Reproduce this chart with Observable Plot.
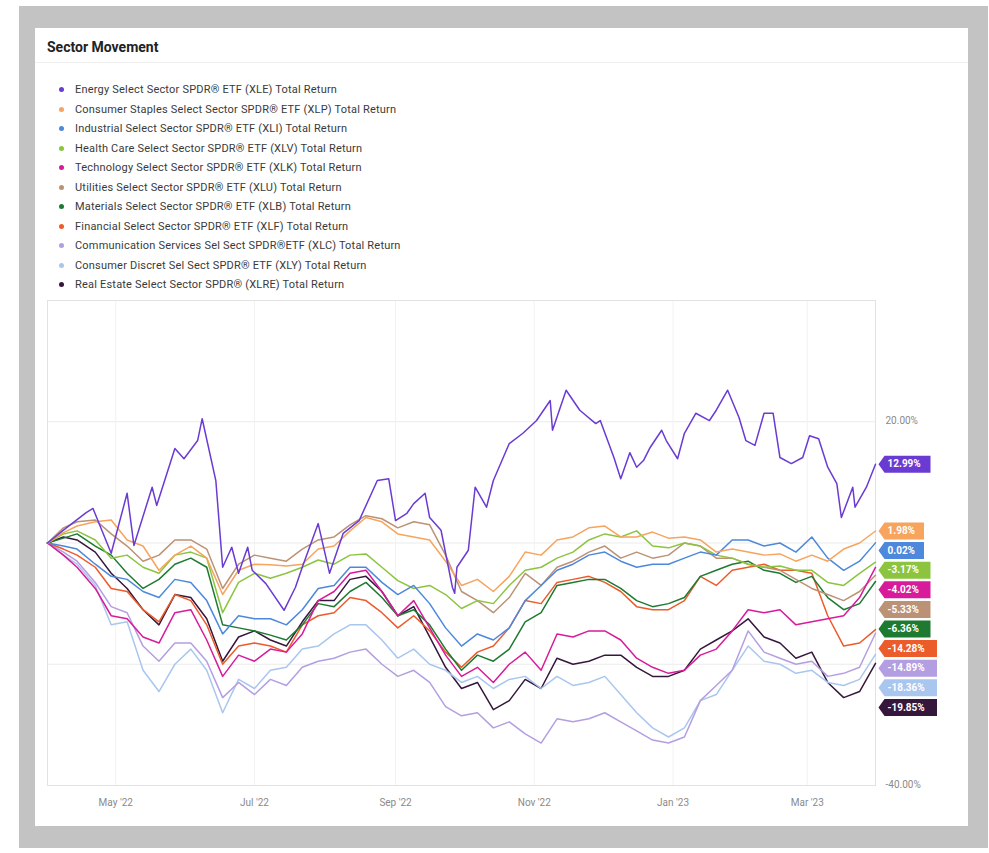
<!DOCTYPE html>
<html>
<head>
<meta charset="utf-8">
<script src="https://cdn.jsdelivr.net/npm/d3@7"></script>
<script src="https://cdn.jsdelivr.net/npm/@observablehq/plot@0.6"></script>
<style>
  html, body { margin:0; padding:0; background:#fff; }
  body { width:989px; height:853px; position:relative; overflow:hidden; font-family: Roboto, "Liberation Sans", sans-serif; }
  #frame { position:absolute; left:19px; top:6px; width:969px; height:842px; background:#c3c3c3; }
  #card { position:absolute; left:35px; top:28px; width:933px; height:798px; background:#fff; }
  #title { position:absolute; left:12px; top:11px; font-size:14px; font-weight:700; color:#222; }
  #sep { position:absolute; left:0; top:34px; width:100%; height:1px; background:#efefef; }
  #legend { position:absolute; left:24px; top:52px; }
  .item { height:19.5px; display:flex; align-items:center; font-size:11px; letter-spacing:0.2px; color:#3a3a3a; white-space:nowrap; }
  .dot { width:5px; height:5px; border-radius:50%; margin-right:11px; flex:none; }
  #chart { position:absolute; left:0; top:262px; }
</style>
</head>
<body>
<div id="frame"></div>
<div id="card">
  <div id="title">Sector Movement</div>
  <div id="sep"></div>
  <div id="legend"></div>
  <div id="chart"></div>
</div>
<script>
const tickers = ["XLE","XLP","XLI","XLV","XLK","XLU","XLB","XLF","XLC","XLY","XLRE"];
const names = [
  "Energy Select Sector SPDR® ETF (XLE) Total Return",
  "Consumer Staples Select Sector SPDR® ETF (XLP) Total Return",
  "Industrial Select Sector SPDR® ETF (XLI) Total Return",
  "Health Care Select Sector SPDR® ETF (XLV) Total Return",
  "Technology Select Sector SPDR® ETF (XLK) Total Return",
  "Utilities Select Sector SPDR® ETF (XLU) Total Return",
  "Materials Select Sector SPDR® ETF (XLB) Total Return",
  "Financial Select Sector SPDR® ETF (XLF) Total Return",
  "Communication Services Sel Sect SPDR®ETF (XLC) Total Return",
  "Consumer Discret Sel Sect SPDR® ETF (XLY) Total Return",
  "Real Estate Select Sector SPDR® (XLRE) Total Return"
];
const colors = ["#6a3bd3","#f6a45e","#4d88dc","#8cc43f","#d81b9a","#bb9276","#1d7a30","#ec5b2a","#b49ee2","#a9c6ef","#36173c"];

// weekly closes (shared by the ten non-energy sectors)
const dates = ["2022-04-01","2022-04-08","2022-04-14","2022-04-22","2022-04-29","2022-05-06","2022-05-13","2022-05-20","2022-05-27","2022-06-03","2022-06-10","2022-06-17","2022-06-24","2022-07-01","2022-07-08","2022-07-15","2022-07-22","2022-07-29","2022-08-05","2022-08-12","2022-08-19","2022-08-26","2022-09-02","2022-09-09","2022-09-16","2022-09-23","2022-09-30","2022-10-07","2022-10-14","2022-10-21","2022-10-28","2022-11-04","2022-11-11","2022-11-18","2022-11-25","2022-12-02","2022-12-09","2022-12-16","2022-12-23","2022-12-30","2023-01-06","2023-01-13","2023-01-20","2023-01-27","2023-02-03","2023-02-10","2023-02-17","2023-02-24","2023-03-03","2023-03-10","2023-03-17","2023-03-24","2023-03-31"];

// energy has its own, denser reading of turning points
const xleDates = ["2022-04-01","2022-04-09","2022-04-18","2022-04-21","2022-04-29","2022-05-06","2022-05-09","2022-05-17","2022-05-19","2022-05-27","2022-05-31","2022-06-06","2022-06-08","2022-06-14","2022-06-17","2022-06-21","2022-06-24","2022-06-28","2022-06-30","2022-07-06","2022-07-14","2022-07-19","2022-07-22","2022-07-29","2022-08-03","2022-08-09","2022-08-16","2022-08-24","2022-08-29","2022-09-01","2022-09-06","2022-09-09","2022-09-14","2022-09-16","2022-09-21","2022-09-26","2022-09-27","2022-09-28","2022-10-03","2022-10-06","2022-10-11","2022-10-14","2022-10-21","2022-10-27","2022-11-02","2022-11-08","2022-11-09","2022-11-15","2022-11-21","2022-11-28","2022-11-30","2022-12-06","2022-12-09","2022-12-13","2022-12-16","2022-12-19","2022-12-22","2022-12-27","2022-12-29","2023-01-03","2023-01-06","2023-01-11","2023-01-17","2023-01-20","2023-01-25","2023-01-30","2023-02-02","2023-02-06","2023-02-10","2023-02-14","2023-02-17","2023-02-22","2023-02-27","2023-03-02","2023-03-06","2023-03-10","2023-03-14","2023-03-16","2023-03-21","2023-03-22","2023-03-27","2023-03-31"];
const XLE = [0,2.4,5.0,5.7,-1.7,8.2,-0.4,9.2,6.2,15.6,13.9,16.9,20.5,10.3,-4.0,-0.7,-5.0,-0.7,-4.5,-6.7,-11.1,-7.3,-4.0,3.2,-5.0,1.6,3.7,10.3,10.6,3.7,4.9,6.5,8.2,4.2,2.1,-7.3,-8.3,-4.0,-1.2,9.2,5.9,10.3,16.4,18.1,20.2,23.5,18.6,25.2,21.9,19.7,20.2,14.1,10.6,14.9,12.5,13.6,15.8,18.6,16.9,13.9,18.1,21.4,20.2,21.9,25.2,20.7,16.9,16.1,21.4,21.4,14.1,13.1,14.1,17.7,17.2,12.5,9.8,4.2,9.2,5.9,9.2,12.99];

const XLP = [0,1.7,2.8,3.5,3.8,0.5,-0.5,-4.5,-2.0,-0.5,-2.5,-8.5,-4.5,-3.5,-3.6,-3.8,-3.5,-1.0,-0.5,2.0,4.2,3.5,1.5,1.0,0.5,-3.0,-7.0,-6.0,-8.0,-5.5,-1.5,-2.0,0.5,1.0,2.5,2.8,1.0,1.0,1.8,0.8,1.0,0.5,-1.5,-1.0,-1.5,-2.0,-1.8,-3.0,-2.0,-3.0,-1.0,0.0,1.98];
const XLI = [0,-0.5,-1.0,-3.5,-5.5,-6.0,-8.0,-9.0,-6.0,-6.5,-9.5,-15.0,-12.0,-12.5,-12.5,-13.5,-11.0,-7.5,-7.0,-4.0,-4.0,-6.5,-8.5,-7.0,-10.0,-14.0,-17.0,-15.0,-16.0,-14.0,-9.5,-7.0,-4.5,-3.5,-2.0,-1.5,-3.0,-4.0,-3.5,-3.5,-2.5,-1.5,-2.0,0.5,0.5,-0.5,0.0,-1.5,1.0,-2.5,-4.5,-3.0,0.02];
const XLV = [0,1.5,2.0,0.5,-2.5,-2.0,-4.0,-5.0,-2.0,-1.5,-2.5,-11.5,-6.5,-5.0,-5.8,-5.0,-4.0,-2.8,-3.5,-2.0,-1.8,-4.0,-6.2,-7.5,-7.0,-8.5,-10.8,-9.5,-10.0,-7.0,-4.5,-4.0,-2.5,-1.5,0.5,1.5,1.0,2.0,-0.5,-0.8,0.0,-0.5,-2.0,-2.5,-3.5,-4.0,-3.8,-4.5,-4.5,-6.5,-7.0,-5.0,-3.17];
const XLK = [0,-2.0,-4.0,-7.5,-12.0,-12.5,-15.5,-16.5,-11.5,-11.0,-16.0,-22.0,-18.5,-19.5,-17.5,-18.0,-15.0,-9.5,-8.0,-5.0,-4.5,-8.0,-12.0,-9.5,-14.0,-18.5,-22.0,-20.5,-23.0,-20.0,-18.0,-21.0,-15.0,-15.5,-14.5,-14.5,-16.0,-19.0,-20.5,-21.5,-21.0,-18.5,-17.5,-14.5,-11.0,-11.5,-11.0,-13.5,-13.0,-12.5,-12.0,-9.0,-4.02];
const XLU = [0,2.5,3.5,3.8,1.5,-0.5,-3.0,-2.0,0.5,0.5,-1.0,-7.5,-3.5,-2.0,-2.5,-3.0,-1.0,0.5,1.0,3.0,4.5,4.0,2.5,3.5,3.0,-2.0,-8.0,-9.5,-11.5,-9.0,-5.0,-7.0,-4.0,-3.0,-1.5,-0.5,-2.5,-1.5,-2.5,-2.0,0.0,-0.5,-2.5,-2.5,-3.5,-4.0,-4.5,-6.0,-7.5,-8.5,-9.5,-8.0,-5.33];
const XLB = [0,0.8,1.5,-0.5,-2.0,-5.0,-7.5,-6.0,-3.5,-2.5,-4.0,-13.5,-14.0,-14.5,-15.2,-16.0,-13.5,-10.0,-10.5,-8.0,-6.5,-9.0,-12.0,-11.0,-13.5,-17.5,-21.0,-18.5,-19.5,-17.5,-13.0,-11.5,-7.0,-6.5,-6.0,-6.0,-7.5,-9.5,-10.5,-10.0,-9.0,-5.5,-4.5,-3.5,-3.0,-4.5,-5.0,-6.5,-5.5,-9.0,-11.0,-10.0,-6.36];
const XLF = [0,-1.0,-2.0,-4.0,-7.5,-8.0,-11.0,-13.0,-8.5,-9.5,-13.5,-20.0,-17.0,-16.5,-17.0,-18.0,-13.5,-12.0,-11.5,-9.0,-9.5,-11.5,-14.0,-12.0,-14.5,-18.0,-20.5,-18.0,-17.0,-14.0,-9.5,-10.0,-6.5,-6.0,-5.5,-6.5,-8.0,-10.5,-11.0,-11.0,-9.5,-5.5,-7.0,-4.5,-4.0,-3.5,-4.5,-4.5,-5.0,-12.0,-17.0,-16.5,-14.28];
const XLC = [0,-1.5,-3.0,-6.5,-10.5,-11.5,-17.0,-19.5,-16.5,-16.5,-19.5,-25.5,-23.0,-25.0,-22.5,-23.5,-20.5,-19.5,-19.0,-18.0,-17.5,-20.0,-22.0,-21.0,-23.0,-27.0,-28.5,-28.0,-30.5,-29.5,-31.5,-33.0,-29.0,-29.5,-29.0,-28.0,-29.5,-31.0,-32.5,-33.0,-32.0,-26.0,-23.5,-21.0,-14.5,-18.0,-19.0,-20.0,-19.5,-22.0,-21.5,-20.5,-14.89];
const XLY = [0,-2.0,-3.5,-7.0,-13.5,-13.0,-21.0,-24.5,-20.0,-17.5,-21.0,-28.0,-22.5,-24.0,-21.0,-20.5,-17.5,-17.0,-15.0,-13.5,-13.5,-16.0,-19.0,-17.5,-20.0,-21.0,-23.0,-22.0,-24.0,-22.5,-22.0,-24.0,-22.0,-23.5,-23.0,-22.0,-25.0,-28.0,-30.5,-32.0,-30.5,-26.0,-25.0,-21.0,-17.0,-19.5,-20.0,-21.5,-21.0,-23.0,-23.5,-22.5,-18.36];
const XLRE = [0,1.0,0.5,-1.5,-5.0,-7.5,-11.0,-13.5,-8.5,-9.0,-12.5,-19.5,-15.5,-14.5,-16.0,-17.0,-13.0,-9.5,-9.5,-6.0,-5.5,-8.0,-12.0,-10.5,-15.5,-20.5,-24.0,-23.0,-27.5,-26.0,-22.5,-24.0,-19.0,-20.0,-19.5,-18.5,-18.5,-20.5,-22.0,-22.0,-21.0,-17.5,-16.0,-14.5,-12.5,-15.5,-16.5,-19.0,-18.0,-23.0,-25.5,-24.5,-19.85];

const xTicks = ["2022-05-01","2022-07-01","2022-09-01","2022-11-01","2023-01-01","2023-03-01"];
const yGrid = [40, 20, 0, -20, -40];
const yLabels = [20, -40];

const values = {XLE, XLP, XLI, XLV, XLK, XLU, XLB, XLF, XLC, XLY, XLRE};
const seriesDates = t => (t === "XLE" ? xleDates : dates);

// legend
const legend = document.getElementById("legend");
tickers.forEach((t, i) => {
  const d = document.createElement("div");
  d.className = "item";
  const dot = document.createElement("span");
  dot.className = "dot";
  dot.style.background = colors[i];
  const txt = document.createElement("span");
  txt.textContent = names[i];
  d.appendChild(dot); d.appendChild(txt);
  legend.appendChild(d);
});

const W = 933, H = 530, mL = 12, mR = 93, mT = 10, mB = 35;
const parse = s => new Date(s + "T00:00:00Z");
const rows = [];
for (const t of [...tickers].reverse()) {
  const ds = seriesDates(t);
  values[t].forEach((v, i) => rows.push({ticker: t, date: parse(ds[i]), value: v}));
}
const lastDate = parse(dates[dates.length - 1]);
const fmt = v => v.toFixed(2) + "%";

const yS = Plot.scale({y: {domain: [-40, 40], range: [H - mB, mT]}});
const ends = tickers.map(t => {
  const v = values[t][values[t].length - 1];
  return {ticker: t, value: v, label: fmt(v), py: yS.apply(v), date: lastDate};
});
ends.sort((a, b) => a.py - b.py);
let prev = -Infinity;
for (const e of ends) {
  e.ly = Math.max(e.py, prev + 19.6);
  prev = e.ly;
  e.lv = yS.invert(e.ly);
  e.w = e.label.length * 6.5 + 7;
}

const tag = {
  draw(ctx, size) {
    const w = Math.sqrt(size / Math.PI), h = 8.5;
    ctx.moveTo(3, 0); ctx.lineTo(9, -h); ctx.lineTo(9 + w, -h);
    ctx.lineTo(9 + w, h); ctx.lineTo(9, h); ctx.closePath();
  }
};

const chart = Plot.plot({
  width: W, height: H,
  marginLeft: mL, marginRight: mR, marginTop: mT, marginBottom: mB,
  x: {type: "utc", domain: [parse(dates[0]), lastDate]},
  y: {domain: [-40, 40]},
  r: {type: "identity"},
  color: {domain: tickers, range: colors},
  style: {fontFamily: '"Liberation Sans Narrow", Roboto, sans-serif', fontSize: "10px", background: "transparent", overflow: "visible"},
  marks: [
    Plot.gridY(yGrid, {stroke: "#ebebeb", strokeOpacity: 1}),
    Plot.gridX(xTicks.map(parse), {stroke: "#f2f2f2", strokeOpacity: 1}),
    Plot.frame({stroke: "#e2e2e2"}),
    Plot.axisX(xTicks.map(parse), {tickFormat: d3.utcFormat("%b '%y"), tickSize: 0, tickPadding: 13, fill: "#8a8a8a", label: null}),
    Plot.axisY(yLabels, {anchor: "right", tickSize: 0, tickPadding: 10, dy: -1, tickFormat: fmt, fill: "#8a8a8a", label: null}),
    Plot.lineY(rows, {x: "date", y: "value", z: "ticker", stroke: "ticker", strokeWidth: 1.5}),
    Plot.dot(ends, {x: "date", y: "lv", r: "w", symbol: tag, fill: "ticker"}),
    Plot.text(ends, {x: "date", y: "lv", text: "label", dx: 12, textAnchor: "start", fill: "white", fontWeight: 700, fontSize: 10, fontFamily: "Roboto, sans-serif"})
  ]
});
document.getElementById("chart").appendChild(chart);
</script>
</body>
</html>
